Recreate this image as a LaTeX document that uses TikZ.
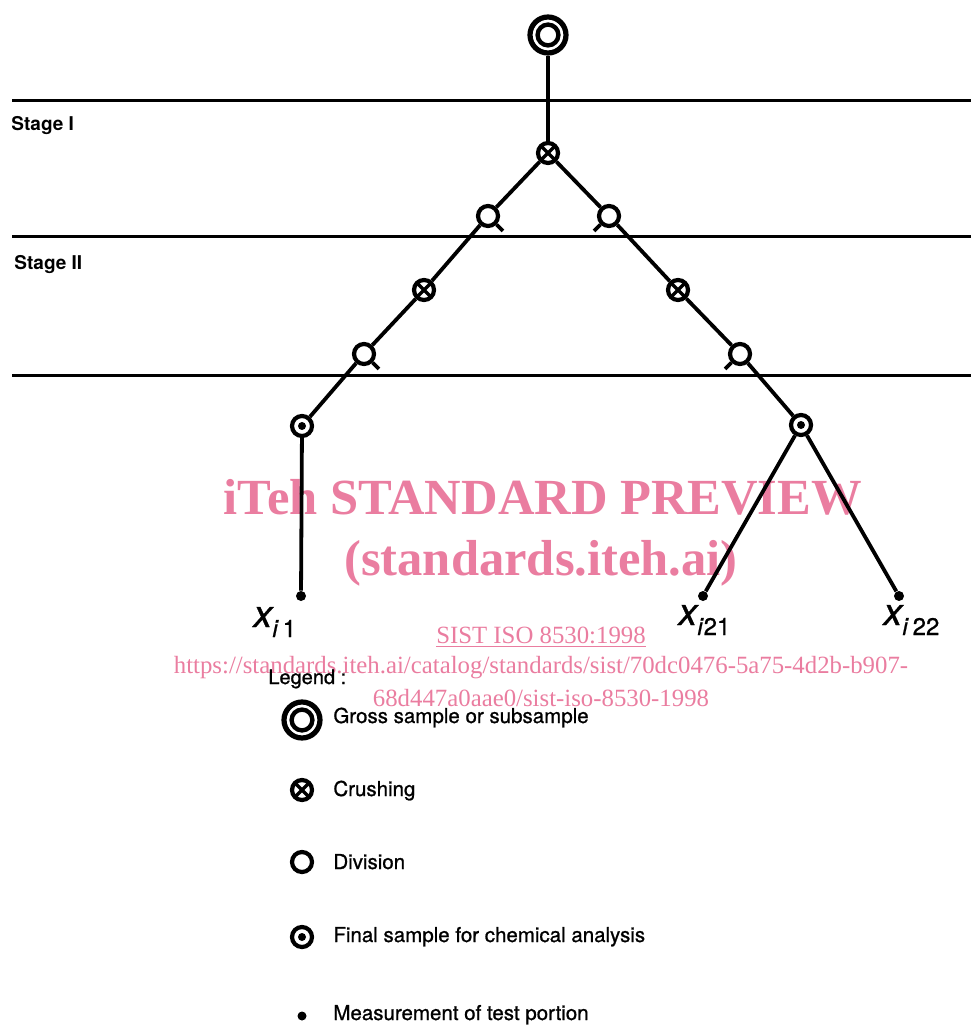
\documentclass[tikz,border=0pt]{standalone}
\usepackage{fontspec}
\setmainfont{TeX Gyre Heros}
\newfontfamily\heavyfont{TeX Gyre Heros}[FakeBold=0.9]
\newfontfamily\wmfont{Liberation Serif}
\usetikzlibrary{positioning}
\definecolor{wmpink}{RGB}{234,125,160}
\tikzset{
  gross/.style={circle, draw, line width=2.6pt, minimum size=18pt, inner sep=0pt,
    path picture={\draw[line width=2.2pt] (path picture bounding box.center) circle (5.2pt);}},
  crush/.style={circle, draw, line width=2.1pt, minimum size=10pt, inner sep=0pt,
    path picture={\draw[line width=1.7pt] (path picture bounding box.north east) -- (path picture bounding box.south west)
      (path picture bounding box.north west) -- (path picture bounding box.south east);}},
  divide/.style={circle, draw, line width=2.1pt, minimum size=10pt, inner sep=0pt},
  final/.style={divide, path picture={\fill (path picture bounding box.center) circle (2pt);}},
  measure/.style={circle, fill, minimum size=5pt, inner sep=0pt},
  branch/.style={line width=1.9pt},
  stageline/.style={line width=1.5pt},
  tick/.style={line width=1.9pt},
  stagelab/.style={font=\bfseries\fontsize{9.5}{11}\selectfont, anchor=base west, inner sep=0pt},
  legtext/.style={font=\heavyfont\fontsize{10.25}{12}\selectfont, anchor=base west, inner sep=0pt},
  xlab/.style={font=\heavyfont, anchor=base west, inner sep=0pt},
  wmbig/.style={text=wmpink, font=\wmfont\bfseries\fontsize{25.3}{28}\selectfont, anchor=base, inner sep=0pt},
  wmsmall/.style={text=wmpink, font=\wmfont\fontsize{12.4}{14}\selectfont, anchor=base, inner sep=0pt}
}
\newcommand\xsub[1]{{\fontsize{19}{20}\selectfont\itshape x}\raisebox{-5pt}{\fontsize{12}{13}\selectfont #1}}

\begin{document}
\begin{tikzpicture}[x=0.5pt, y=-0.5pt]
  \useasboundingbox (0,0) rectangle (971,1026);

  % watermark
  \node (wm1) [wmbig] at (543,514) {iTeh STANDARD PREVIEW};
  \node (wm2) [wmbig] at (541,575) {(standards.iteh.ai)};
  \node (wm3) [wmsmall] at (541,643) {\underline{SIST ISO 8530:1998}};
  \node (wm4) [wmsmall] at (541,673) {https://standards.iteh.ai/catalog/standards/sist/70dc0476-5a75-4d2b-b907-};
  \node (wm5) [wmsmall] at (541,706) {68d447a0aae0/sist-iso-8530-1998};

  % stages
  \draw[stageline] (12,101) -- (971,101);
  \draw[stageline] (12,237) -- (971,237);
  \draw[stageline] (12,375) -- (971,375);
  \node (st1) [stagelab] at (11,131) {Stage I};
  \node (st2) [stagelab] at (14,270) {Stage II};

  % tree
  \node (top) [gross] at (548,35) {};
  \node (c0) [crush] at (548,153) {};
  \node (dL1) [divide] at (488,216) {};
  \node (dR1) [divide] at (609,216) {};
  \node (cL) [crush] at (424,290) {};
  \node (cR) [crush] at (678,290) {};
  \node (dL2) [divide] at (364,354) {};
  \node (dR2) [divide] at (740,354) {};
  \node (fL) [final] at (302,426) {};
  \node (fR) [final] at (801,425) {};
  \node (mL) [measure] at (301,596) {};
  \node (mR1) [measure] at (703,596) {};
  \node (mR2) [measure] at (899,596) {};

  \draw[branch] (top) -- (c0);
  \draw[branch] (c0) -- (dL1) -- (cL) -- (dL2) -- (fL) -- (mL);
  \draw[branch] (c0) -- (dR1) -- (cR) -- (dR2) -- (fR);
  \draw[branch] (fR) -- (mR1);
  \draw[branch] (fR) -- (mR2);

  \draw[tick] (dL1.-45) -- ++(-45:4.5pt);
  \draw[tick] (dL2.-45) -- ++(-45:4.5pt);
  \draw[tick] (dR1.-135) -- ++(-135:4.5pt);
  \draw[tick] (dR2.-135) -- ++(-135:4.5pt);

  \node (xL) [xlab] at (253,627) {\xsub{\textit{i}\,1}};
  \node (xR1) [xlab] at (678,625) {\xsub{\textit{i}21}};
  \node (xR2) [xlab] at (883,625) {\xsub{\textit{i}\,22}};

  % legend
  \node (leg) [legtext, font=\heavyfont\fontsize{10}{12}\selectfont] at (268,684) {Legend :};
  \node (lg1) [gross] at (302,720) {};
  \node (lg2) [crush] at (302,790) {};
  \node (lg3) [divide] at (302,862) {};
  \node (lg4) [final] at (302,937) {};
  \node (lg5) [measure, minimum size=4.5pt] at (302,1016) {};
  \node (lt1) [legtext] at (333,723) {Gross sample or subsample};
  \node (lt2) [legtext] at (333,796) {Crushing};
  \node (lt3) [legtext] at (333,869) {Division};
  \node (lt4) [legtext] at (333,942) {Final sample for chemical analysis};
  \node (lt5) [legtext] at (333,1020) {Measurement of test portion};
\end{tikzpicture}
\end{document}
